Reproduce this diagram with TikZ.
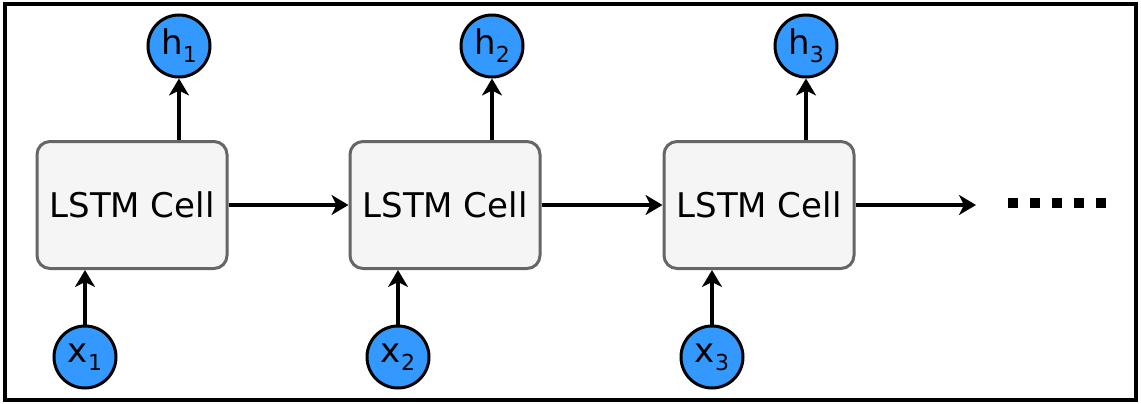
\documentclass[tikz,border=0pt]{standalone}
\usepackage{fontspec}
\setmainfont{DejaVu Sans}
\usetikzlibrary{arrows.meta}
\definecolor{ioblue}{HTML}{3399FF}
\newcommand{\subnum}[1]{\raisebox{-8pt}{\fontsize{22}{22}\selectfont #1}}

\begin{document}
\begin{tikzpicture}[x=1pt,y=-1pt,line width=3.5pt,>={Stealth[length=17pt,width=20pt,inset=5pt]},
  cell/.style={draw=black!60,line width=3pt,fill=black!4,rounded corners=13pt,
    minimum width=190pt,minimum height=127pt,inner sep=0pt,font=\fontsize{34}{40}\selectfont},
  io/.style={circle,draw=black,line width=3pt,fill=ioblue,minimum size=62pt,inner sep=0pt,
    font=\fontsize{34}{36}\selectfont}]
  % marco
  \useasboundingbox (0,0) rectangle (1141,404);
  \draw[line width=4pt] (5,4) rectangle (1136,400);
  % celdas, salidas y entradas
  \foreach \i/\cx in {1/132,2/445,3/759}{
    \node[cell] (c\i) at (\cx,205) {LSTM Cell};
    \node[io] (h\i) at (\cx+47,46) {h\subnum{\i}};
    \node[io] (x\i) at (\cx-47,357) {x\subnum{\i}};
    \draw[->] (c\i.north -| h\i) -- (h\i);
    \draw[->] (x\i) -- (x\i |- c\i.south);
  }
  % enlaces entre celdas
  \coordinate (nxt) at (976,205);
  \draw[->] (c1) -- (c2);
  \draw[->] (c2) -- (c3);
  \draw[->] (c3) -- (nxt);
  % puntos suspensivos
  \draw[line width=10pt,dash pattern=on 10pt off 12pt] (1008,203) -- (1110,203);
\end{tikzpicture}
\end{document}
